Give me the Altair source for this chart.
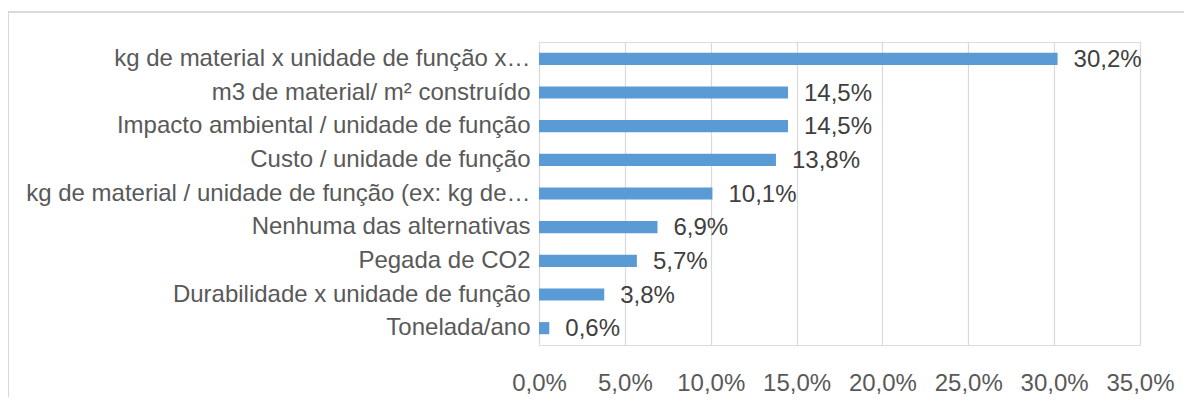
import altair as alt
import pandas as pd

categories = [
    "kg de material x unidade de função x…",
    "m3 de material/ m² construído",
    "Impacto ambiental / unidade de função",
    "Custo / unidade de função",
    "kg de material / unidade de função (ex: kg de…",
    "Nenhuma das alternativas",
    "Pegada de CO2",
    "Durabilidade x unidade de função",
    "Tonelada/ano",
]
values = [30.2, 14.5, 14.5, 13.8, 10.1, 6.9, 5.7, 3.8, 0.6]
x_ticks = [0, 5, 10, 15, 20, 25, 30, 35]

df = pd.DataFrame({"cat": categories, "val": values})

FONT = "Liberation Sans"
FS = 24

base = alt.Chart(df).encode(
    y=alt.Y("cat:N", sort=categories, title=None,
            scale=alt.Scale(paddingInner=0.64, paddingOuter=0.32),
            axis=alt.Axis(labelFont=FONT, labelFontSize=FS, labelColor="#595959",
                          labelLimit=0, labelPadding=9, ticks=False, domain=False,
                          grid=False)),
    x=alt.X("val:Q", title=None,
            scale=alt.Scale(domain=[0, 35], nice=False, zero=True),
            axis=alt.Axis(values=x_ticks, labelFont=FONT, labelFontSize=FS,
                          labelColor="#595959", ticks=False, domain=False,
                          grid=True, gridColor="#d9d9d9", gridWidth=1.2,
                          labelPadding=26, labelOverlap=False, labelFlush=False,
                          labelExpr="replace(format(datum.value, '.1f'), '.', ',') + '%'")),
)

bars = base.mark_bar(color="#5b9bd5")

labels = base.transform_calculate(
    lab="replace(format(datum.val, '.1f'), '.', ',') + '%'"
).mark_text(align="left", baseline="middle", dx=16, dy=1, font=FONT,
            fontSize=FS, color="#404040").encode(text="lab:N")

border_top = alt.Chart(df).mark_rule(color="#d9d9d9", strokeWidth=1.5).encode(
    x=alt.value(-531), x2=alt.value(645), y=alt.value(-30))
border_left = alt.Chart(df).mark_rule(color="#d9d9d9", strokeWidth=1.5).encode(
    x=alt.value(-531), y=alt.value(-30), y2=alt.value(370))

chart = alt.layer(border_top, border_left, bars, labels).properties(
    width=601, height=303,
    padding={"left": 531, "top": 34, "right": 44, "bottom": 52},
    autosize=alt.AutoSizeParams(type="none"),
).configure_view(stroke=None).configure(background="white")

chart.save("out.html", embed_options={"renderer": "svg", "actions": False})
